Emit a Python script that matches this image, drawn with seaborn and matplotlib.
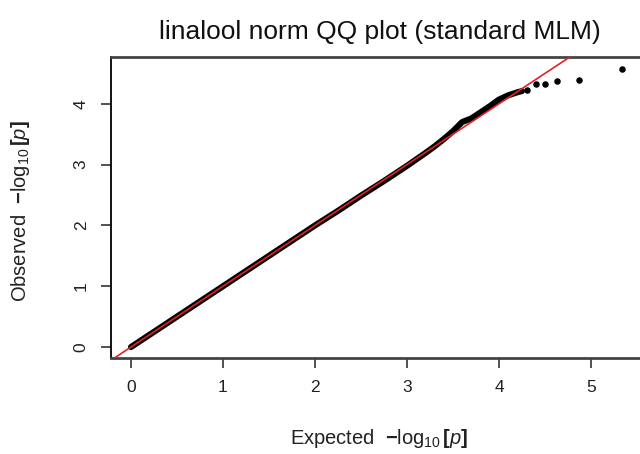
import matplotlib
matplotlib.use("Agg")
import matplotlib.pyplot as plt
import seaborn as sns

# QQ plot values
expected_bulk = [0.0, 0.25, 0.5, 0.75, 1.0, 1.25, 1.5, 1.75, 2.0, 2.25, 2.5, 2.75, 3.0,
                 3.2, 3.3, 3.4, 3.5, 3.6, 3.7, 3.8, 3.9, 4.0, 4.1, 4.2, 4.25]
observed_bulk = [0.0, 0.25, 0.5, 0.75, 1.0, 1.25, 1.5, 1.75, 2.0, 2.24, 2.49, 2.73, 2.98,
                 3.19, 3.30, 3.42, 3.55, 3.70, 3.76, 3.86, 3.96, 4.07, 4.14, 4.19, 4.21]
expected_tail = [4.30, 4.40, 4.50, 4.63, 4.87, 5.34]
observed_tail = [4.23, 4.33, 4.33, 4.37, 4.39, 4.58]
xticks = [0, 1, 2, 3, 4, 5]
yticks = [0, 1, 2, 3, 4]

sns.set_style("ticks")
plt.rcParams['font.family'] = ['Liberation Sans', 'DejaVu Sans']
plt.rcParams['mathtext.fontset'] = 'custom'
plt.rcParams['mathtext.rm'] = 'Liberation Sans'
plt.rcParams['mathtext.it'] = 'Liberation Sans:italic'
plt.rcParams['mathtext.bf'] = 'Liberation Sans:bold'

fig = plt.figure(figsize=(6.4, 4.54), dpi=100)
ax = fig.add_axes([111 / 640, 1 - 358 / 454, 529 / 640, 301 / 454])

# dense band of points, drawn as a thick line; the sparse tail as dots
sns.lineplot(x=expected_bulk, y=observed_bulk, color='black', linewidth=4.4,
             sort=False, ax=ax, solid_capstyle='round', solid_joinstyle='round')
sns.scatterplot(x=expected_tail, y=observed_tail, color='black', s=22, linewidth=0, ax=ax)
ax.axline((0, 0), slope=1, color='#e02228', linewidth=1.2, zorder=5)

ax.set_xlim(-0.217, 5.533)
ax.set_ylim(-0.18, 4.77)
ax.set_xticks(xticks)
ax.set_yticks(yticks)
ax.tick_params(axis='both', direction='out', length=7, width=1.2, color='#333333',
               labelsize=12.5, labelcolor='#222222', pad=9)
for lab in ax.get_yticklabels():
    lab.set_rotation(90)
    lab.set_va('center')

ax.spines['left'].set_color('black')
ax.spines['left'].set_linewidth(1.3)
for side in ['top', 'bottom']:
    ax.spines[side].set_color('#444444')
    ax.spines[side].set_linewidth(2)
ax.spines['right'].set_color('#eeeeee')

ax.set_xlabel(r'Expected  $\mathbf{-}\log_{10}\mathbf{[}p\mathbf{]}$', fontsize=14.5,
              color='#222222', va='center', ha='center')
ax.set_ylabel(r'Observed  $\mathbf{-}\log_{10}\mathbf{[}p\mathbf{]}$', fontsize=14.5,
              color='#222222', va='center', ha='center')
ax.xaxis.set_label_coords(0.507, -0.266)
ax.yaxis.set_label_coords(-0.172, 0.488)
fig.text(380 / 640, 1 - 32 / 454, 'linalool norm QQ plot (standard MLM)',
         ha='center', va='center', fontsize=19, color='#111111')

plt.savefig('out.png', dpi=100)
